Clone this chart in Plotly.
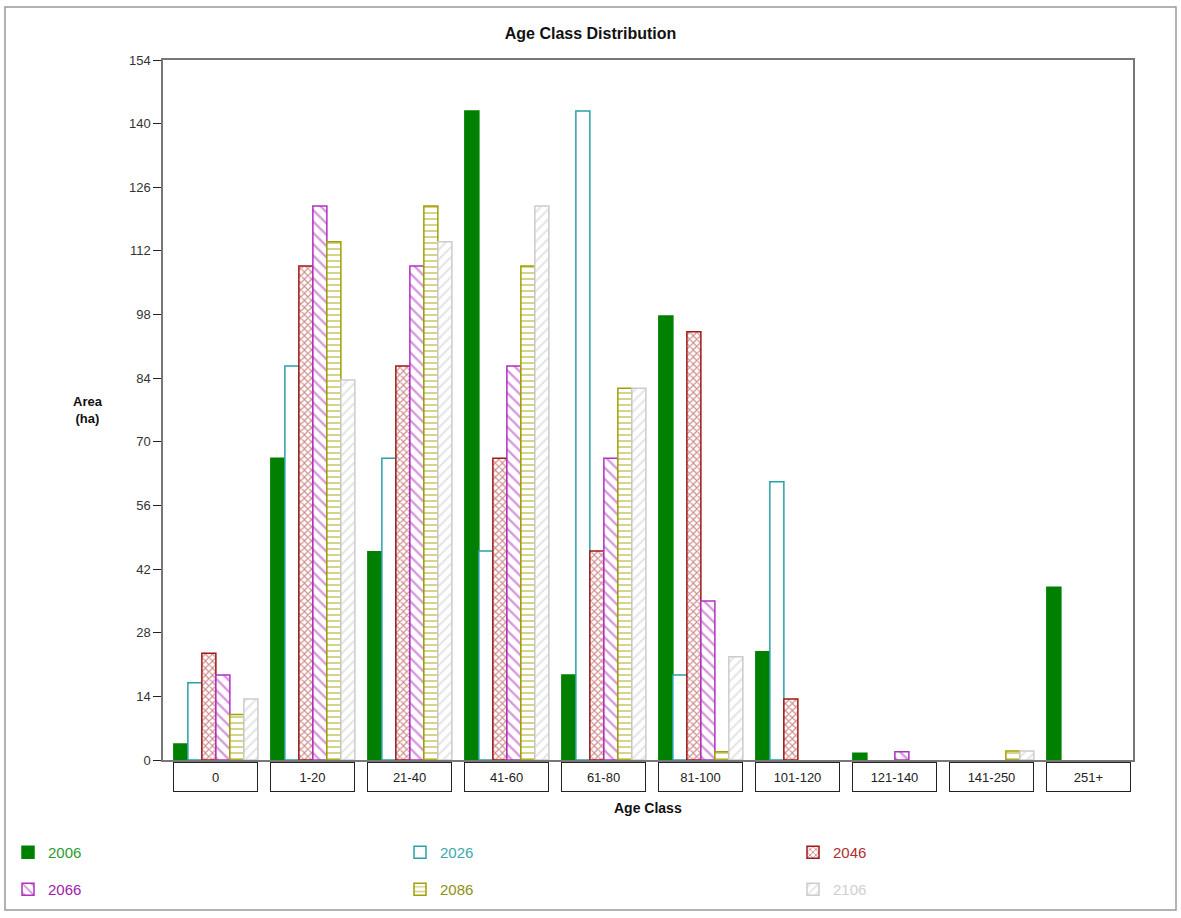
import plotly.graph_objects as go

categories = ["0", "1-20", "21-40", "41-60", "61-80", "81-100", "101-120", "121-140", "141-250", "251+"]
years = ["2006", "2026", "2046", "2066", "2086", "2106"]

# None = no bar drawn in that class
v2006 = [3.5, 66.4, 45.8, 142.8, 18.7, 97.7, 23.8, 1.5, None, 38]
v2026 = [17, 86.7, 66.4, 46, 142.8, 18.7, 61.2, None, None, None]
v2046 = [23.5, 108.7, 86.7, 66.4, 46, 94.2, 13.4, None, None, None]
v2066 = [18.7, 121.9, 108.7, 86.7, 66.4, 35, None, 1.8, None, None]
v2086 = [10, 114, 121.9, 108.7, 81.8, 1.8, None, None, 2, None]
v2106 = [13.4, 83.6, 114, 121.9, 81.8, 22.7, None, None, 2, None]

yticks = list(range(0, 155, 14))

series = [v2006, v2026, v2046, v2066, v2086, v2106]
styles = [
    dict(fill="#008000", line="#008000", shape="", text="#2e9a2e", size=8, sol=0.3),
    dict(fill="#ffffff", line="#2aa0a8", shape="", text="#3aa8b0", size=8, sol=0.3),
    dict(fill="#ffffff", line="#a01818", shape="x", text="#b03030", size=5, sol=0.4),
    dict(fill="#ffffff", line="#b030c0", shape="\\", text="#a020b0", size=8, sol=0.3),
    dict(fill="#ffffff", line="#a0a000", shape="-", text="#909010", size=6, sol=0.3),
    dict(fill="#ffffff", line="#cccccc", shape="/", text="#cfcfcf", size=7, sol=0.3),
]

FONT = "Arial, Liberation Sans, Helvetica, sans-serif"

# plot area in pixels: x 163..1133, y 60..760
PL, PW, PB, PH = 163.0, 970.0, 760.0, 700.0
col_px = [8, 400, 793]
row_px = [836, 873]

fig = go.Figure()
x_idx = list(range(len(categories)))
legend_layouts = {}
for i, (yr, vals, st) in enumerate(zip(years, series, styles)):
    marker = dict(color=st["fill"], line=dict(color=st["line"], width=1.5))
    if st["shape"]:
        marker["pattern"] = dict(shape=st["shape"], fgcolor=st["line"], bgcolor="#ffffff",
                                 size=st["size"], solidity=st["sol"], fillmode="overlay")
    lname = "legend" if i == 0 else f"legend{i + 1}"
    fig.add_trace(go.Bar(
        x=x_idx, y=vals,
        name=f"<span style='color:{st['text']}'>{yr}</span>",
        marker=marker,
        legend=lname,
    ))
    cx = col_px[i % 3]
    ry = row_px[i // 3]
    legend_layouts[lname] = dict(
        orientation="h", x=(cx - PL) / PW, xanchor="left",
        y=(PB - ry) / PH, yanchor="top",
        font=dict(family=FONT, size=15), bgcolor="rgba(0,0,0,0)",
    )

# Category label boxes below axis
for i, c in enumerate(categories):
    fig.add_annotation(x=i, xref="x", y=0, yref="paper", yanchor="top", yshift=-2,
                       text=c, showarrow=False, width=81, height=26,
                       bordercolor="#222222", borderwidth=1, borderpad=1,
                       font=dict(family=FONT, size=13, color="#222222"))

fig.add_annotation(x=(88 - PL) / PW, xref="paper", xanchor="center",
                   y=(PB - 410) / PH, yref="paper", yanchor="middle",
                   text="<b>Area<br>(ha)</b>", showarrow=False,
                   font=dict(family=FONT, size=13, color="#111111"))
fig.add_annotation(x=0.5, xref="paper", xanchor="center", y=(PB - 808) / PH, yref="paper",
                   yanchor="middle", text="<b>Age Class</b>",
                   showarrow=False, font=dict(family=FONT, size=14, color="#111111"))

# outer border
fig.add_shape(type="rect", xref="paper", yref="paper",
              x0=(5 - PL) / PW, x1=(1176 - PL) / PW, y0=(PB - 910) / PH, y1=(PB - 7) / PH,
              line=dict(color="#999999", width=1.5))

fig.update_layout(
    width=1181, height=918,
    paper_bgcolor="white", plot_bgcolor="white",
    margin=dict(l=163, r=48, t=60, b=158, autoexpand=False),
    title=dict(text="<b>Age Class Distribution</b>", x=0.5, xanchor="center", y=(918 - 33) / 918,
               yanchor="middle", font=dict(family=FONT, size=16, color="#111111")),
    barmode="group", bargap=0.134, bargroupgap=0,
    xaxis=dict(range=[-0.545, 9.455], showticklabels=False, ticks="", showgrid=False,
               showline=True, mirror=True, linecolor="#777777", linewidth=1.5, zeroline=False,
               tickvals=x_idx),
    yaxis=dict(range=[0, 154], tickvals=yticks, ticks="outside", ticklen=8, tickcolor="#222222",
               showgrid=False, showline=True, mirror=True, linecolor="#777777", linewidth=1.5,
               zeroline=False, tickfont=dict(family=FONT, size=13, color="#333333")),
    showlegend=True,
    **legend_layouts,
)

fig.write_html("out.html", config={"displayModeBar": False},
               post_script="document.body.style.margin='0';")
